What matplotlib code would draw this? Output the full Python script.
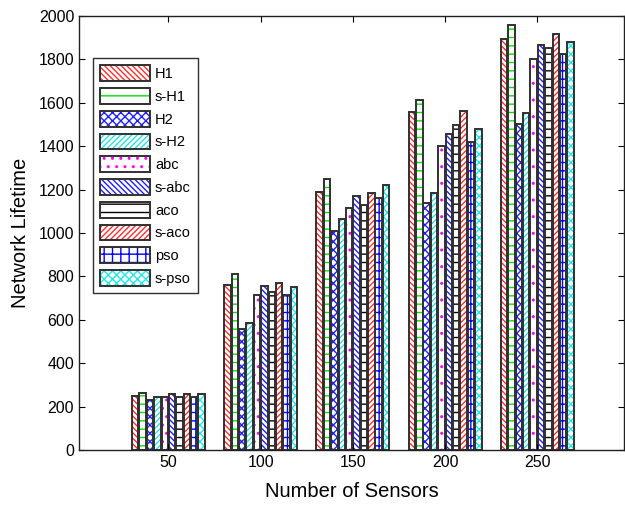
import numpy as np
import matplotlib
matplotlib.use("Agg")
import matplotlib.pyplot as plt

plt.rcParams['font.family'] = ['Liberation Sans', 'DejaVu Sans']
plt.rcParams['hatch.linewidth'] = 1.0

# Данные
sensors = [50, 100, 150, 200, 250]
names = ['H1', 's-H1', 'H2', 's-H2', 'abc', 's-abc', 'aco', 's-aco', 'pso', 's-pso']

h1 = [249, 760, 1190, 1556, 1894]
s_h1 = [263, 810, 1249, 1613, 1960]
h2 = [230, 556, 1011, 1140, 1502]
s_h2 = [246, 584, 1063, 1186, 1554]
abc = [246, 714, 1117, 1402, 1802]
s_abc = [258, 754, 1171, 1456, 1866]
aco = [246, 727, 1129, 1498, 1854]
s_aco = [258, 771, 1183, 1562, 1918]
pso = [246, 713, 1163, 1421, 1825]
s_pso = [258, 753, 1223, 1478, 1882]

series = [h1, s_h1, h2, s_h2, abc, s_abc, aco, s_aco, pso, s_pso]

# Штриховка и цвет для каждой серии
hatches = ['\\' * 6, '--', 'xxxx', '/' * 6, '..', '\\' * 6, '--', '/' * 6, '++', 'xxxx']
colors = ['#ff3030', '#00e000', '#2020ff', '#30e0e0', '#ff00ff',
          '#2020ff', '#000000', '#ff3030', '#0000ff', '#20e8e8']

fig = plt.figure(figsize=(6.25, 5.05), dpi=100)
ax = fig.add_axes([79 / 625, 1 - 450 / 505, 545 / 625, 434 / 505])

pitch = 4.0
width = 3.5
x = np.array(sensors, dtype=float)
handles = []
for i, vals in enumerate(series):
    pos = x + (i - 4.5) * pitch
    # штриховка (цвет задаётся через edgecolor)
    ax.bar(pos, vals, width, color='white', edgecolor=colors[i],
           hatch=hatches[i], linewidth=0)
    # контур столбца
    ax.bar(pos, vals, width, fill=False, edgecolor='#303030', linewidth=1.4)
    # элемент для легенды
    h = plt.Rectangle((0, 0), 1, 1, facecolor='white', edgecolor=colors[i],
                      hatch=hatches[i], linewidth=0)
    frame = plt.Rectangle((0, 0), 1, 1, fill=False, edgecolor='#303030', linewidth=1.4)
    handles.append((h, frame))

ax.set_xlim(1.5, 297)
ax.set_ylim(0, 2000)
ax.set_xticks(sensors)
ax.set_yticks(range(0, 2001, 200))
ax.tick_params(direction='in', top=True, right=True, labelsize=11.5, length=4)
for s in ax.spines.values():
    s.set_linewidth(1.0)
    s.set_color('#202020')

ax.set_xlabel('Number of Sensors', fontsize=14.5, labelpad=9)
ax.set_ylabel('Network Lifetime', fontsize=14.5, labelpad=6)

leg = ax.legend(handles, names, loc='upper left',
                bbox_to_anchor=(93 / 625, 1 - 58 / 505), bbox_transform=fig.transFigure,
                borderaxespad=0, fontsize=10.5, handlelength=3.4, handleheight=1.3,
                labelspacing=0.47, handletextpad=0.35, borderpad=0.5,
                fancybox=False, framealpha=1)
leg.get_frame().set_edgecolor('#303030')
leg.get_frame().set_linewidth(1.0)

fig.savefig('out.png', dpi=100)
